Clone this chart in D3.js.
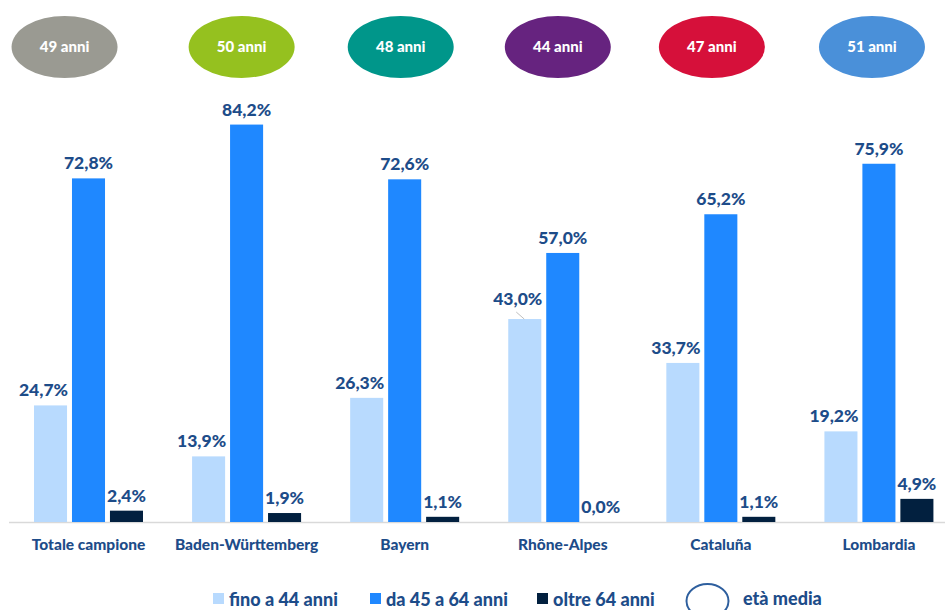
<!DOCTYPE html>
<html>
<head>
<meta charset="utf-8">
<script src="https://cdn.jsdelivr.net/npm/d3@7"></script>
<style>
  html, body { margin: 0; padding: 0; background: #fff; }
  svg { display: block; font-family: Lato, "Open Sans", sans-serif; }
</style>
</head>
<body>
<svg id="chart" width="945" height="610"></svg>
<script>
// Regions compared, and the share of each age band (percent)
const categories = ["Totale campione", "Baden-Württemberg", "Bayern", "Rhône-Alpes", "Cataluña", "Lombardia"];
const fino44 = [24.7, 13.9, 26.3, 43.0, 33.7, 19.2];
const da45a64 = [72.8, 84.2, 72.6, 57.0, 65.2, 75.9];
const oltre64 = [2.4, 1.9, 1.1, 0.0, 1.1, 4.9];
// Average age per region
const etaMedia = [49, 50, 48, 44, 47, 51];
const seriesNames = ["fino a 44 anni", "da 45 a 64 anni", "oltre 64 anni"];
const legendEta = "età media";

const seriesColors = ["#b8dafe", "#1f88ff", "#02203f"];
const bubbleColors = ["#9a9a92", "#95c11f", "#00968a", "#66237f", "#d6103a", "#4a90d9"];
const textBlue = "#1d4c89";
const heavy = 900;

const svg = d3.select("#chart");

const x = d3.scaleBand().domain(categories).range([9.5, 958]).paddingInner(0).paddingOuter(0);
const xs = d3.scaleBand().domain(d3.range(3)).range([24.5, 133.5]).paddingInner(0.13).paddingOuter(0);
const y = d3.scaleLinear().domain([0, 100]).range([522, 50]);

const series = [fino44, da45a64, oltre64];
const fmt = v => d3.format(".1f")(v).replace(".", ",") + "%";

// baseline
svg.append("line")
  .attr("x1", 9).attr("x2", 945)
  .attr("y1", 522.5).attr("y2", 522.5)
  .attr("stroke", "#d9d9d9").attr("stroke-width", 1.5);

// bars
const groups = svg.selectAll("g.grp")
  .data(categories)
  .join("g")
  .attr("class", "grp")
  .attr("transform", d => `translate(${x(d)},0)`);

groups.each(function(cat, i) {
  const g = d3.select(this);
  const vals = series.map(s => s[i]);
  g.selectAll("rect")
    .data(vals)
    .join("rect")
    .attr("x", (v, k) => xs(k))
    .attr("width", xs.bandwidth())
    .attr("y", v => y(v))
    .attr("height", v => y(0) - y(v))
    .attr("fill", (v, k) => seriesColors[k]);

  // value labels: first series right-aligned to its bar, others centred
  vals.forEach((v, k) => {
    const lift = (k === 0 && v > 40) ? 14 : 9;
    const t = g.append("text")
      .attr("y", y(v) - lift)
      .attr("fill", textBlue)
      .attr("font-size", 17.5)
      .attr("font-weight", heavy)
      .text(fmt(v));
    if (k === 0) {
      t.attr("x", xs(k) + xs.bandwidth() + 1).attr("text-anchor", "end");
      if (v > 40) {
        g.append("line")
          .attr("x1", xs(k) + 8).attr("y1", y(v) - 7)
          .attr("x2", xs(k) + 16).attr("y2", y(v))
          .attr("stroke", "#bfbfbf").attr("stroke-width", 1);
      }
    } else {
      t.attr("x", xs(k) + xs.bandwidth() / 2).attr("text-anchor", "middle");
    }
  });

  // category label
  g.append("text")
    .attr("x", x.bandwidth() / 2)
    .attr("y", 550)
    .attr("text-anchor", "middle")
    .attr("fill", textBlue)
    .attr("font-size", 15.5)
    .attr("font-weight", heavy)
    .text(cat);
});

// average-age bubbles above each group
const bubbleNudge = [-24, -5, -4, -5, -9, -7];
const bubbles = svg.selectAll("g.bubble")
  .data(etaMedia)
  .join("g")
  .attr("class", "bubble")
  .attr("transform", (d, i) => `translate(${x(categories[i]) + x.bandwidth() / 2 + bubbleNudge[i]},47)`);
bubbles.append("ellipse")
  .attr("rx", 53).attr("ry", 31)
  .attr("fill", (d, i) => bubbleColors[i]);
bubbles.append("text")
  .attr("text-anchor", "middle")
  .attr("dy", "0.35em")
  .attr("fill", "#fff")
  .attr("font-size", 15)
  .attr("font-weight", heavy)
  .text(d => `${d} anni`);

// legend
const legendX = [213, 370, 537];
const legend = svg.append("g");
seriesNames.forEach((name, k) => {
  legend.append("rect")
    .attr("x", legendX[k]).attr("y", 593)
    .attr("width", 11).attr("height", 11)
    .attr("fill", seriesColors[k]);
  legend.append("text")
    .attr("x", legendX[k] + 16).attr("y", 606)
    .attr("fill", textBlue)
    .attr("font-size", 18)
    .attr("font-weight", heavy)
    .text(name);
});
legend.append("ellipse")
  .attr("cx", 707.5).attr("cy", 601)
  .attr("rx", 21).attr("ry", 17)
  .attr("fill", "none")
  .attr("stroke", "#2e5f9e").attr("stroke-width", 2);
legend.append("text")
  .attr("x", 743).attr("y", 605)
  .attr("fill", textBlue)
  .attr("font-size", 18)
  .attr("font-weight", heavy)
  .text(legendEta);
</script>
</body>
</html>
